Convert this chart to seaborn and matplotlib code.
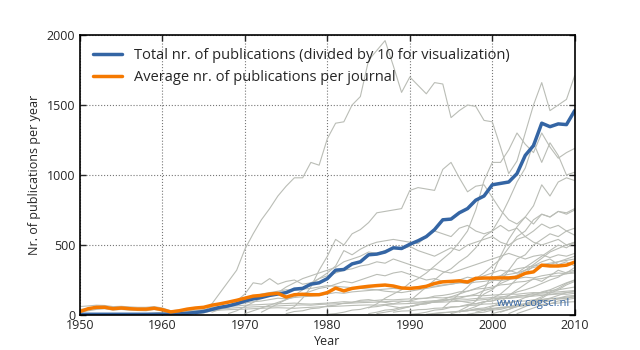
import seaborn as sns
import pandas as pd
import matplotlib.pyplot as plt

years = list(range(1950, 2011))

# total nr. of publications, already divided by 10
total_div10 = [5, 5, 5, 5, 5, 5, 5, 5, 5, 5,
               5, 5, 8, 12, 18, 25, 40, 55, 65, 80,
               100, 115, 125, 140, 150, 160, 185, 190, 220, 230,
               260, 320, 325, 365, 380, 430, 435, 450, 480, 475,
               505, 530, 560, 610, 680, 685, 730, 760, 820, 850,
               930, 940, 950, 1010, 1140, 1210, 1370, 1345, 1365, 1360, 1460]

average = [25, 45, 55, 55, 45, 50, 45, 42, 42, 48,
           38, 22, 30, 42, 50, 55, 70, 80, 92, 105,
           120, 135, 140, 150, 155, 128, 145, 148, 145, 145,
           160, 192, 172, 190, 198, 205, 210, 214, 207, 193,
           190, 195, 205, 225, 237, 240, 244, 236, 262, 264,
           264, 265, 265, 270, 298, 308, 356, 350, 350, 356, 378]

y_ticks = [0, 500, 1000, 1500, 2000]

# per journal: (first year, yearly counts)
journals = [
    (1965, [20, 80, 160, 240, 320, 470, 580, 680, 760, 850,
            920, 980, 980, 1090, 1070, 1260, 1370, 1380, 1500, 1560,
            1820, 1890, 1960, 1780, 1590, 1700, 1640, 1580, 1660, 1650,
            1410, 1460, 1500, 1490, 1390, 1380, 1200, 1010, 1100, 1300,
            1500, 1660, 1460, 1500, 1540, 1710]),
    (1975, [30, 60, 120, 200, 320, 420, 540, 500, 580, 610,
            660, 730, 740, 750, 760, 890, 910, 900, 890, 1040,
            1090, 980, 880, 920, 930, 840, 750, 680, 650, 700,
            650, 720, 700, 740, 720, 750]),
    (1985, [50, 80, 120, 150, 180, 230, 260, 300, 350, 400,
            450, 520, 600, 750, 960, 1090, 1090, 1180, 1300, 1220,
            1160, 1300, 1200, 1120, 1160, 1190]),
    (1990, [100, 150, 200, 250, 300, 330, 380, 420, 480, 560,
            600, 700, 820, 950, 1050, 1230, 1090, 1230, 1140, 1000, 1020]),
    (1994, [50, 100, 150, 200, 260, 300, 350, 400, 480, 560,
            600, 680, 720, 700, 740, 730, 760]),
    (1998, [100, 180, 290, 420, 540, 630, 700, 780, 930, 850, 950, 980, 960]),
    (1996, [30, 60, 100, 150, 180, 240, 320, 400, 430, 500,
            540, 580, 560, 600, 570]),
    (1972, [20, 50, 80, 110, 140, 180, 220, 260, 300, 350,
            460, 430, 470, 500, 520, 530, 540, 530, 520, 510,
            560, 600, 580, 560, 620, 640, 600, 580, 600, 640,
            600, 620, 560, 600, 650, 620, 640, 600, 620]),
    (1968, [10, 30, 60, 90, 120, 140, 160, 200, 230, 260,
            280, 300, 320, 340, 380, 400, 420, 450, 440, 460,
            480, 470, 490, 460, 440, 420, 450, 480, 460, 500,
            520, 540, 560, 520, 500, 540, 560, 520, 500, 520,
            540, 500, 520]),
    (1966, [20, 40, 60, 100, 150, 230, 220, 260, 220, 240,
            250, 220, 230, 260, 280, 300, 320, 330, 350, 360,
            380, 370, 400, 380, 360, 340, 320, 330, 310, 300,
            320, 340, 360, 380, 400, 420, 440, 420, 400, 420,
            430, 410, 430, 420, 440]),
    (1950, [60, 65, 70, 68, 60, 62, 58, 55, 55, 60,
            50, 30, 35, 40, 45, 50, 55, 60, 62, 65,
            70, 72, 75, 78, 80, 82, 85, 80, 78, 82,
            85, 90, 95, 92, 98, 100, 105, 110, 108, 112,
            115, 118, 120, 125, 122, 128, 130, 135, 140, 138,
            142, 145, 150, 148, 155, 160, 158, 162, 165, 170, 175]),
    (1950, [40, 45, 50, 48, 42, 45, 40, 38, 38, 42,
            35, 20, 25, 30, 35, 38, 42, 45, 48, 52,
            55, 58, 60, 62, 65, 68, 70, 72, 70, 75,
            78, 80, 82, 85, 88, 90, 92, 95, 98, 100,
            95, 92, 98, 102, 108, 110, 115, 112, 118, 120,
            125, 130, 128, 135, 140, 145, 150, 148, 155, 160, 165]),
    (1950, [20, 30, 40, 45, 35, 40, 35, 32, 30, 40,
            30, 15, 20, 25, 28, 30, 32, 35, 38, 40,
            42, 45, 48, 50, 52, 50, 48, 52, 55, 58,
            60, 62, 65, 68, 70, 72, 70, 75, 78, 80,
            82, 85, 88, 90, 92, 95, 98, 100, 105, 110,
            115, 120, 118, 125, 130, 135, 140, 145, 150, 148, 155]),
    (1958, [10, 15, 20, 15, 18, 22, 28, 35, 45, 55,
            65, 75, 85, 95, 100, 110, 120, 115, 125, 130,
            135, 140, 150, 160, 155, 165, 170, 175, 180, 185,
            190, 185, 195, 200, 210, 205, 215, 220, 230, 225,
            235, 240, 250, 245, 255, 260, 270, 265, 280, 290,
            300, 295, 310]),
    (1964, [5, 15, 30, 50, 70, 90, 110, 130, 150, 160,
            170, 180, 175, 185, 190, 200, 210, 205, 200, 195,
            190, 185, 180, 170, 165, 160, 170, 180, 190, 200,
            210, 220, 230, 240, 250, 260, 270, 280, 290, 300,
            320, 340, 350, 360, 380, 400, 420]),
    (1970, [10, 30, 50, 70, 90, 110, 130, 150, 170, 190,
            200, 220, 240, 230, 250, 270, 290, 280, 300, 310,
            290, 270, 250, 260, 240, 230, 250, 270, 260, 280,
            300, 320, 310, 330, 340, 350, 360, 370, 380, 390, 400]),
    (1975, [10, 25, 30, 45, 50, 65, 70, 85, 90, 105,
            110, 100, 90, 80, 95, 100, 115, 120, 135, 140,
            150, 165, 170, 185, 190, 200, 215, 220, 235, 240,
            255, 260, 275, 280, 295, 300]),
    (1980, [5, 10, 20, 35, 40, 55, 60, 70, 60, 50,
            60, 75, 80, 95, 100, 110, 100, 90, 80, 95,
            100, 115, 120, 135, 140, 155, 160, 175, 180, 190, 200]),
    (1985, [10, 20, 35, 40, 55, 60, 75, 80, 95, 100,
            115, 120, 135, 150, 175, 190, 225, 250, 285, 320,
            360, 405, 450, 475, 500, 520]),
    (1990, [5, 10, 20, 35, 40, 55, 60, 75, 80, 95,
            100, 125, 140, 165, 180, 200, 225, 250, 270, 305, 320]),
    (1995, [10, 25, 30, 45, 50, 65, 70, 85, 100, 125,
            140, 165, 180, 205, 230, 250]),
    (1997, [5, 15, 20, 35, 40, 55, 60, 75, 80, 95, 100, 115, 120, 135]),
    (1993, [10, 18, 20, 28, 30, 38, 40, 48, 50, 58,
            60, 75, 80, 95, 100, 115, 120, 130]),
    (2000, [10, 25, 40, 65, 80, 105, 130, 165, 190, 225, 250]),
    (1998, [20, 35, 40, 55, 60, 75, 80, 95, 100, 115, 120, 135, 140]),
    (1988, [20, 28, 30, 38, 40, 48, 50, 58, 60, 68,
            70, 78, 80, 88, 90, 98, 100, 108, 110, 118, 120, 128, 130]),
    (2002, [10, 35, 60, 95, 120, 155, 180, 215, 240]),
    (1992, [5, 12, 15, 22, 25, 32, 35, 42, 45, 52,
            55, 62, 65, 72, 75, 82, 85, 92, 95]),
    (1996, [20, 40, 60, 90, 120, 150, 200, 260, 300, 350,
            380, 400, 360, 380, 350]),
    (1999, [30, 60, 90, 140, 180, 220, 260, 240, 280, 320, 300, 340]),
    (1986, [10, 20, 30, 45, 60, 70, 90, 100, 110, 130,
            150, 170, 190, 210, 240, 280, 320, 300, 340, 380,
            420, 460, 500, 480, 520]),
    (2001, [20, 40, 60, 80, 90, 110, 120, 140, 160, 170]),
    (2003, [10, 30, 50, 70, 80, 100, 110, 120]),
]

rows = []
for i, (start, counts) in enumerate(journals):
    for j, n in enumerate(counts):
        rows.append({"journal": i, "year": start + j, "n": n})
grey_df = pd.DataFrame(rows)
main_df = pd.DataFrame({"year": years, "total": total_div10, "average": average})

sns.set_style("ticks", {"axes.grid": True, "grid.linestyle": ":",
                        "grid.color": "#777777", "axes.edgecolor": "black",
                        "xtick.direction": "in", "ytick.direction": "in",
                        "xtick.top": True, "ytick.right": True})
plt.rcParams['font.family'] = ['Open Sans', 'DejaVu Sans']

fig, ax = plt.subplots(figsize=(6.4, 3.5), dpi=100)
fig.subplots_adjust(left=0.125, right=0.898, bottom=0.1, top=0.9)

sns.lineplot(data=grey_df, x="year", y="n", units="journal", estimator=None,
             color="#babdb6", lw=0.8, ax=ax)
sns.lineplot(data=main_df, x="year", y="total", color="#3465a4", lw=2.5,
             label="Total nr. of publications (divided by 10 for visualization)", ax=ax)
sns.lineplot(data=main_df, x="year", y="average", color="#f57900", lw=2.5,
             label="Average nr. of publications per journal", ax=ax)

ax.set_xlim(1950, 2010)
ax.set_ylim(0, 2000)
ax.set_yticks(y_ticks)
ax.set_xlabel("Year", fontsize=9, labelpad=2)
ax.set_ylabel("Nr. of publications per year", fontsize=9)
ax.tick_params(labelsize=9, length=4, width=1)
ax.tick_params(axis="x", pad=3)
for s in ax.spines.values():
    s.set_linewidth(1.2)
ax.grid(True, linestyle=":", color="#777777", lw=0.8)
ax.legend(loc="upper left", frameon=False, fontsize=10.5, handlelength=2)
ax.text(0.99, 0.02, "www.cogsci.nl", transform=ax.transAxes, ha="right",
        va="bottom", color="#3465a4", fontsize=8)

plt.savefig("out.png", dpi=100)
